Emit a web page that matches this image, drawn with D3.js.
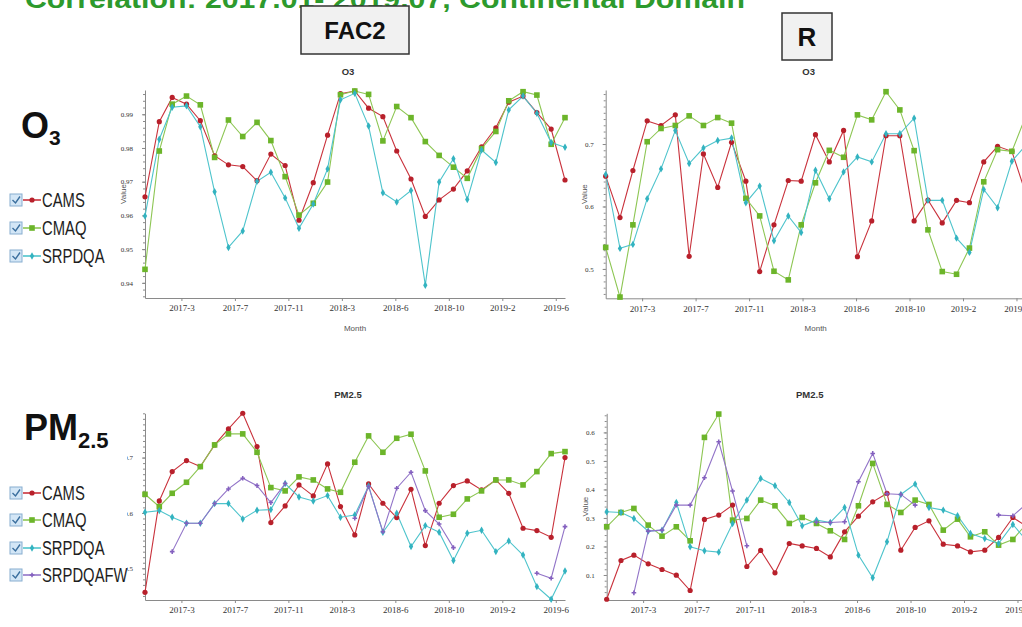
<!DOCTYPE html>
<html>
<head>
<meta charset="utf-8">
<script src="https://cdn.jsdelivr.net/npm/d3@7"></script>
<style>
    body { margin: 0; background: #fff; overflow: hidden; }
    svg { display: block; font-family: "Liberation Sans", Arial, sans-serif; }
    .xaxis text, .yaxis text { font-family: "Liberation Serif", "Times New Roman", serif; fill: #333; }
    .xaxis path, .yaxis path, .xaxis line, .yaxis line, .minor line { stroke: #8a8a8a; }
</style>
</head>
<body>
<svg id="slide" width="1022" height="627"></svg>
<script>
// months on the x axis (one point per month)
const months = ["2017-01","2017-02","2017-03","2017-04","2017-05","2017-06","2017-07","2017-08","2017-09","2017-10","2017-11","2017-12",
    "2018-01","2018-02","2018-03","2018-04","2018-05","2018-06","2018-07","2018-08","2018-09","2018-10","2018-11","2018-12",
    "2019-01","2019-02","2019-03","2019-04","2019-05","2019-06","2019-07"];

// tick dates used by the original time axis (labelled year-month)
const tickDates = ["2017-03-21","2017-07-15","2017-11-08","2018-03-04","2018-06-28","2018-10-22","2019-02-15","2019-06-11"];

const seriesNames = ["CAMS", "CMAQ", "SRPDQA", "SRPDQAFW"];

// FAC2, O3
const fac2O3Cams   = [0.9655,0.9878,0.9950,0.9930,0.9881,0.9777,0.9750,0.9745,0.9703,0.9782,0.9748,0.9586,0.9697,0.9838,0.9961,0.9969,0.9918,0.9893,0.9791,0.9708,0.9597,0.9646,0.9678,0.9732,0.9803,0.9860,0.9936,0.9954,0.9905,0.9856,0.9705];
const fac2O3Cmaq   = [0.9440,0.9791,0.9930,0.9954,0.9928,0.9772,0.9883,0.9834,0.9876,0.9822,0.9715,0.9601,0.9636,0.9699,0.9958,0.9969,0.9959,0.9821,0.9923,0.9890,0.9819,0.9778,0.9743,0.9710,0.9798,0.9849,0.9940,0.9967,0.9957,0.9811,0.9890];
const fac2O3Srpdqa = [0.9598,0.9826,0.9921,0.9925,0.9863,0.9670,0.9505,0.9554,0.9701,0.9728,0.9652,0.9562,0.9634,0.9738,0.9943,0.9962,0.9865,0.9667,0.9640,0.9674,0.9393,0.9699,0.9768,0.9647,0.9794,0.9757,0.9913,0.9954,0.9903,0.9816,0.9802];

// R, O3
const rO3Cams   = [0.6485,0.5822,0.6576,0.7371,0.7297,0.7467,0.5202,0.6841,0.6305,0.7027,0.6406,0.4958,0.5706,0.6416,0.6406,0.7149,0.6714,0.7218,0.5196,0.5769,0.7133,0.7133,0.5769,0.6103,0.5737,0.6098,0.6061,0.6714,0.6963,0.6883,0.6215];
const rO3Cmaq   = [0.5345,0.4550,0.5706,0.7037,0.7249,0.7297,0.7451,0.7297,0.7424,0.7334,0.6130,0.5849,0.4963,0.4825,0.5706,0.6379,0.6899,0.6788,0.7467,0.7387,0.7838,0.7546,0.6894,0.5626,0.4958,0.4915,0.5334,0.6395,0.6910,0.6883,0.7440];
const rO3Srpdqa = [0.6512,0.5329,0.5393,0.6125,0.6602,0.7218,0.6687,0.6936,0.7058,0.7095,0.6061,0.6326,0.5451,0.5849,0.5584,0.6581,0.6125,0.6554,0.6793,0.6714,0.7164,0.7164,0.7414,0.6098,0.6098,0.5493,0.5265,0.6273,0.5981,0.6724,0.6980];

// FAC2, PM2.5
const fac2PmCams   = [0.4566,0.6217,0.6747,0.6946,0.6837,0.7229,0.7518,0.7801,0.7199,0.5825,0.6127,0.6506,0.6307,0.6886,0.6114,0.5602,0.6524,0.6175,0.5916,0.6428,0.5410,0.6175,0.6494,0.6578,0.6416,0.6596,0.6355,0.5723,0.5681,0.5560,0.7000];
const fac2PmCmaq   = [0.6337,0.6114,0.6355,0.6554,0.6837,0.7229,0.7428,0.7428,0.7096,0.6458,0.6398,0.6651,0.6596,0.6434,0.6373,0.6916,0.7392,0.7096,0.7349,0.7422,0.6759,0.5922,0.5976,0.6253,0.6398,0.6596,0.6596,0.6506,0.6747,0.7072,0.7108];
const fac2PmSrpdqa = [0.6012,0.6042,0.5922,0.5813,0.5813,0.6169,0.6169,0.5892,0.6048,0.6060,0.6530,0.6289,0.6217,0.6313,0.5922,0.5964,0.6488,0.5651,0.5994,0.5392,0.5771,0.5651,0.5139,0.5633,0.5687,0.5301,0.5494,0.5240,0.4669,0.4440,0.4952];
const fac2PmFw     = [null,null,0.5301,0.5813,0.5813,0.6169,0.6434,0.6627,0.6494,0.6187,0.6530,null,null,null,null,0.5904,0.6476,0.5662,0.6446,0.6735,0.6042,0.5800,0.5373,null,null,null,null,null,0.4910,0.4820,0.5753];

// R, PM2.5
const rPmCams   = [0.0150,0.1509,0.1696,0.1392,0.1193,0.0994,0.0456,0.2947,0.3100,0.3450,0.1298,0.1860,0.1076,0.2105,0.2020,0.1930,0.1635,0.2512,0.3063,0.3565,0.3860,0.1870,0.2667,0.2898,0.2080,0.2020,0.1810,0.1870,0.2316,0.3018,0.2700];
const rPmCmaq   = [0.2690,0.3193,0.3333,0.2749,0.2363,0.2690,0.2199,0.5825,0.6643,0.2924,0.2982,0.3626,0.3427,0.2807,0.3018,0.2807,0.2550,0.2246,0.3427,0.4912,0.3474,0.3193,0.3626,0.3474,0.2573,0.2959,0.2339,0.2515,0.2047,0.2246,0.2800];
const rPmSrpdqa = [0.3216,0.3193,0.2982,0.2538,0.2573,0.3544,0.1988,0.1848,0.1801,0.2807,0.3626,0.4386,0.4129,0.3544,0.2725,0.2924,0.2842,0.3368,0.1696,0.0901,0.2164,0.3825,0.4187,0.3368,0.3275,0.3076,0.2456,0.2281,0.2105,0.2772,0.2200];
const rPmFw     = [null,null,0.0374,0.2538,0.2573,0.3450,0.3450,0.4409,0.5673,0.3942,0.2023,null,null,null,null,0.2850,0.2840,0.2865,0.4268,0.5263,0.3850,0.3825,0.3450,null,null,null,null,null,0.3100,0.3076,0.3500];

// y tick labels per chart
const o3Fac2Ticks = [0.94, 0.95, 0.96, 0.97, 0.98, 0.99];
const o3RTicks = [0.5, 0.6, 0.7];
const pmFac2Ticks = [0.5, 0.6, 0.7];
const pmRTicks = [0.1, 0.2, 0.3, 0.4, 0.5, 0.6];

// look of each series: line colour, marker colour, marker shape
const styles = {
    CAMS:     {line: "#c9323c", mark: "#b8202b", shape: "circle"},
    CMAQ:     {line: "#8dc653", mark: "#6cb52a", shape: "square"},
    SRPDQA:   {line: "#4ec4cc", mark: "#33b3c0", shape: "diamond"},
    SRPDQAFW: {line: "#9274c8", mark: "#8460bf", shape: "cross"}
};

const parseMonth = d3.timeParse("%Y-%m");
const parseDay = d3.timeParse("%Y-%m-%d");
const svg = d3.select("#slide");

function drawMarker(g, shape, color, x, y) {
    if (shape === "circle") {
        g.append("circle").attr("cx", x).attr("cy", y).attr("r", 2.6).attr("fill", color);
    } else if (shape === "square") {
        g.append("rect").attr("x", x - 2.8).attr("y", y - 2.8).attr("width", 5.6).attr("height", 5.6).attr("fill", color);
    } else if (shape === "diamond") {
        g.append("path").attr("transform", `translate(${x},${y})`)
            .attr("d", d3.symbol(d3.symbolDiamond, 16)).attr("fill", color);
    } else {
        g.append("path").attr("transform", `translate(${x},${y})`)
            .attr("d", d3.symbol(d3.symbolCross, 12)).attr("fill", color);
    }
}

function lineChart(cfg) {
    const g = svg.append("g");
    if (cfg.clipLeft) {
        // the slide crops this chart picture on the left
        svg.append("clipPath").attr("id", cfg.id)
            .append("rect").attr("x", cfg.clipLeft).attr("y", cfg.yTop - 40).attr("width", 600).attr("height", 300);
        g.attr("clip-path", `url(#${cfg.id})`);
    }

    const xScale = d3.scaleTime()
        .domain([parseMonth(months[0]), parseMonth(months[months.length - 1])])
        .range([cfg.x0, cfg.x0 + 420]);
    const yScale = d3.scaleLinear()
        .domain(cfg.domain)
        .range([cfg.yBot, cfg.yTop]);

    // minor ticks along the value axis
    g.append("g")
        .attr("class", "minor")
        .attr("transform", `translate(${cfg.x0},0)`)
        .call(d3.axisLeft(yScale).ticks(cfg.minor).tickSize(2).tickFormat(""))
        .call(a => a.select(".domain").remove());

    g.append("g")
        .attr("class", "yaxis")
        .attr("transform", `translate(${cfg.x0},0)`)
        .call(d3.axisLeft(yScale).tickValues(cfg.ticks).tickFormat(d3.format(cfg.fmt)).tickSize(3).tickSizeOuter(0).tickPadding(9))
        .call(a => a.selectAll("text").style("font-size", "7px"));

    g.append("g")
        .attr("class", "xaxis")
        .attr("transform", `translate(0,${cfg.yBot})`)
        .call(d3.axisBottom(xScale).tickValues(tickDates.map(parseDay)).tickFormat(d3.timeFormat("%Y-%-m")).tickSize(3).tickSizeOuter(0).tickPadding(4))
        .call(a => a.selectAll("text").style("font-size", "9px"));

    // chart title, axis names
    g.append("text")
        .attr("x", cfg.x0 + 203).attr("y", cfg.yTop - 15)
        .attr("text-anchor", "middle")
        .style("font-size", "9.5px").style("font-weight", "bold").attr("fill", "#333")
        .text(cfg.title);
    g.append("text")
        .attr("x", cfg.x0 + 210).attr("y", cfg.yBot + 33)
        .attr("text-anchor", "middle")
        .style("font-size", "8px").attr("fill", "#555")
        .text("Month");
    g.append("text")
        .attr("transform", `translate(${cfg.x0 - 19},${(cfg.yTop + cfg.yBot) / 2}) rotate(-90)`)
        .attr("text-anchor", "middle")
        .style("font-size", "8px").attr("fill", "#555")
        .text("Value");

    // lines then markers
    cfg.series.forEach(function(s) {
        const st = styles[s.name];
        const line = d3.line()
            .defined(d => d != null)
            .x((d, i) => xScale(parseMonth(months[i])))
            .y(d => yScale(d));
        g.append("path")
            .datum(s.values)
            .attr("d", line)
            .attr("fill", "none")
            .attr("stroke", st.line)
            .attr("stroke-width", 1.1);
    });
    cfg.series.forEach(function(s) {
        const st = styles[s.name];
        const mg = g.append("g");
        s.values.forEach(function(v, i) {
            if (v == null) return;
            drawMarker(mg, st.shape, st.mark, xScale(parseMonth(months[i])), yScale(v));
        });
    });
}

function legend(names, ys) {
    names.forEach(function(name, i) {
        const st = styles[name];
        const cy = ys[i];
        const g = svg.append("g");
        g.append("rect").attr("x", 10).attr("y", cy - 6).attr("width", 12).attr("height", 12)
            .attr("fill", "#d3e6f6").attr("stroke", "#88aed0");
        g.append("path").attr("d", `M12.5,${cy} L15.5,${cy + 3} L20,${cy - 3.5}`)
            .attr("fill", "none").attr("stroke", "#3b6f9e").attr("stroke-width", 1.4);
        g.append("line").attr("x1", 23).attr("x2", 41).attr("y1", cy).attr("y2", cy)
            .attr("stroke", st.line).attr("stroke-width", 1.6);
        drawMarker(g, st.shape, st.mark, 32, cy);
        g.append("text")
            .attr("transform", `translate(42,${cy + 7}) scale(0.76,1)`)
            .style("font-size", "19.5px").attr("fill", "#1e1e1e")
            .text(name);
    });
}

// slide title (cut by the top edge)
svg.append("text")
    .attr("x", 25).attr("y", 8)
    .attr("textLength", 720).attr("lengthAdjust", "spacingAndGlyphs")
    .style("font-size", "25px").style("font-weight", "bold").attr("fill", "#2d9a2d")
    .text("Correlation: 2017.01- 2019.07, Continental Domain");

// metric boxes
function metricBox(x, y, w, h, label, size) {
    svg.append("rect").attr("x", x).attr("y", y).attr("width", w).attr("height", h)
        .attr("fill", "#f1f1f1").attr("stroke", "#333").attr("stroke-width", 1.5);
    svg.append("text").attr("x", x + w / 2).attr("y", y + h / 2 + size * 0.36)
        .attr("text-anchor", "middle").style("font-size", size + "px").style("font-weight", "bold")
        .attr("fill", "#111").text(label);
}
metricBox(301, 6, 108, 48, "FAC2", 24);
metricBox(782, 13, 50, 47, "R", 26);

lineChart({id: "c1", x0: 145, yTop: 90, yBot: 298, domain: [0.9355, 0.9972], ticks: o3Fac2Ticks, fmt: ".2f", minor: 30, title: "O3",
    series: [{name: "CAMS", values: fac2O3Cams}, {name: "CMAQ", values: fac2O3Cmaq}, {name: "SRPDQA", values: fac2O3Srpdqa}]});
lineChart({id: "c2", x0: 605.7, yTop: 90, yBot: 298.3, domain: [0.453, 0.7865], ticks: o3RTicks, fmt: ".1f", minor: 30, title: "O3",
    series: [{name: "CAMS", values: rO3Cams}, {name: "CMAQ", values: rO3Cmaq}, {name: "SRPDQA", values: rO3Srpdqa}]});
lineChart({id: "c3", x0: 145, yTop: 413.3, yBot: 600, domain: [0.4427, 0.780], ticks: pmFac2Ticks, fmt: ".1f", minor: 30, title: "PM2.5", clipLeft: 127,
    series: [{name: "CAMS", values: fac2PmCams}, {name: "CMAQ", values: fac2PmCmaq}, {name: "SRPDQA", values: fac2PmSrpdqa}, {name: "SRPDQAFW", values: fac2PmFw}]});
lineChart({id: "c4", x0: 606.7, yTop: 413.3, yBot: 600, domain: [0.0123, 0.667], ticks: pmRTicks, fmt: ".1f", minor: 30, title: "PM2.5",
    series: [{name: "CAMS", values: rPmCams}, {name: "CMAQ", values: rPmCmaq}, {name: "SRPDQA", values: rPmSrpdqa}, {name: "SRPDQAFW", values: rPmFw}]});

// big pollutant labels with subscripts
const o3 = svg.append("text").attr("x", 21).attr("y", 138).style("font-weight", "bold").attr("fill", "#111");
o3.append("tspan").style("font-size", "36px").text("O");
o3.append("tspan").attr("dy", 7).style("font-size", "21px").text("3");
const pm = svg.append("text").attr("x", 24).attr("y", 440).style("font-weight", "bold").attr("fill", "#111");
pm.append("tspan").style("font-size", "36px").text("PM");
pm.append("tspan").attr("dy", 8).style("font-size", "22px").text("2.5");

legend(["CAMS", "CMAQ", "SRPDQA"], [200, 228, 256]);
legend(["CAMS", "CMAQ", "SRPDQA", "SRPDQAFW"], [493, 520, 548, 575]);
</script>
</body>
</html>
